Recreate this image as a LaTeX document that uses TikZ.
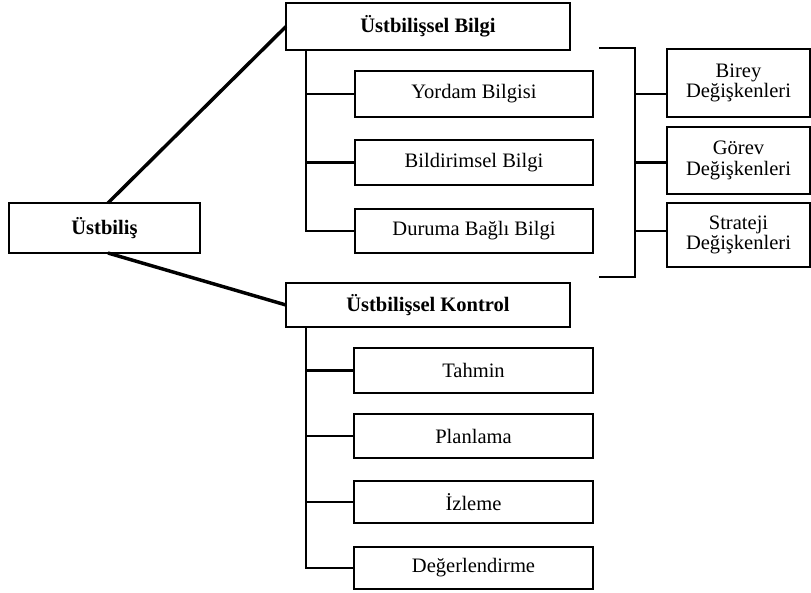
\documentclass[tikz,border=0pt]{standalone}
\usepackage{fontspec}
\setmainfont{Liberation Serif}
\usetikzlibrary{calc}
\tikzset{
  sz/.style 2 args={minimum width={#1*0.75pt}, minimum height={#2*0.75pt}},
  box/.style={draw=black, line width=1.1pt, fill=white, inner sep=0pt, outer sep=0pt,
    align=center, font=\fontsize{15.4}{15.6}\selectfont},
  hbox/.style={box, font=\fontsize{15.4}{15.6}\selectfont\bfseries},
  diag/.style={line width=2.6pt},
  trunk/.style={line width=2.2pt},
}
\begin{document}
\begin{tikzpicture}[x=0.75pt, y=-0.75pt]
\useasboundingbox (0,0) rectangle (811,593);
% main nodes
\node[hbox, sz={191}{50}] (root) at (104.5,228) {Üstbiliş};
\node[hbox, sz={284}{47}] (bilgi) at (428,26.5) {Üstbilişsel Bilgi};
\node[hbox, sz={284}{44}] (kontrol) at (428,305) {Üstbilişsel Kontrol};
% knowledge children
\node[box, sz={238}{46}] (yordam) at (474,94) {Yordam Bilgisi};
\node[box, sz={238}{45}] (bildir) at (474,162.5) {Bildirimsel Bilgi};
\node[box, sz={238}{44}] (duruma) at (474,231) {Duruma Bağlı Bilgi};
% control children
\node[box, sz={239}{45}] (tahmin) at (473.5,370.5) {Tahmin};
\node[box, sz={239}{44}] (plan) at (473.5,436) {Planlama};
\node[box, sz={239}{42}] (izleme) at (473.5,502) {İzleme};
\node[box, sz={239}{42}] (deger) at (473.5,568) {Değerlendirme};
% variables
\node[box, sz={143}{68}] (birey) at (738.5,83) {Birey\\Değişkenleri};
\node[box, sz={143}{67}] (gorev) at (738.5,160.5) {Görev\\Değişkenleri};
\node[box, sz={143}{64}] (strat) at (738.5,235) {Strateji\\Değişkenleri};
% diagonal connectors
\draw[diag] ([xshift=2.6pt]root.north) -- (bilgi.west);
\draw[diag] ([xshift=2.6pt]root.south) -- (kontrol.west);
% knowledge trunk
\coordinate (t1) at ($(bilgi.south west)+(20,0)$);
\draw[trunk] (t1) |- (duruma.west);
\draw[trunk] (t1 |- yordam.west) -- (yordam.west);
\draw[trunk] (t1 |- bildir.west) -- (bildir.west);
% control trunk
\coordinate (t2) at ($(kontrol.south west)+(20,0)$);
\draw[trunk] (t2) |- (deger.west);
\draw[trunk] (t2 |- tahmin.west) -- (tahmin.west);
\draw[trunk] (t2 |- plan.west) -- (plan.west);
\draw[trunk] (t2 |- izleme.west) -- (izleme.west);
% bracket
\coordinate (b1) at (599,48);
\coordinate (b2) at (635,48);
\coordinate (b3) at (635,277);
\coordinate (b4) at (599,277);
\draw[trunk] (b1) -- (b2) -- (b3) -- (b4);
\draw[trunk] (b2 |- yordam.east) -- (birey.west |- yordam.east);
\draw[trunk] (b2 |- bildir.east) -- (gorev.west |- bildir.east);
\draw[trunk] (b2 |- duruma.east) -- (strat.west |- duruma.east);
\end{tikzpicture}
\end{document}
